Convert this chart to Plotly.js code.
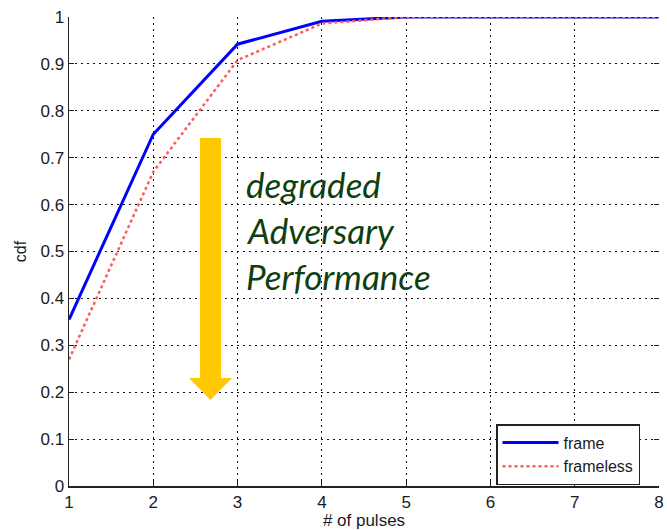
<!DOCTYPE html>
<html>
<head>
<meta charset="utf-8">
<script src="https://cdn.plot.ly/plotly-3.0.1.min.js"></script>
<style>html,body{margin:0;padding:0;background:#fff;}#chart{width:667px;height:530px;}</style>
</head>
<body>
<div id="chart"></div>
<script>
const pulses = [1, 2, 3, 4, 5, 6, 7, 8];
const frameCdf = [0.355, 0.75, 0.942, 0.991, 1, 1, 1, 1];
const framelessCdf = [0.27, 0.67, 0.908, 0.986, 1, 1, 1, 1];
const seriesNames = ['frame', 'frameless'];
const yTicks = [0, 0.1, 0.2, 0.3, 0.4, 0.5, 0.6, 0.7, 0.8, 0.9, 1];
const noteLines = ['degraded', 'Adversary', 'Performance'];

const traces = [
  {x: pulses, y: frameCdf, name: seriesNames[0], mode: 'lines', type: 'scatter',
   line: {color: '#0000ff', width: 3}},
  {x: pulses, y: framelessCdf, name: seriesNames[1], mode: 'lines', type: 'scatter',
   line: {color: '#ff5a5a', width: 2.5, dash: 'dot'}},
  {x: pulses, y: frameCdf, yaxis: 'y2', mode: 'none', type: 'scatter', showlegend: false, hoverinfo: 'skip'}
];

const fam = 'Liberation Sans, Arial, sans-serif';
const tickFont = {family: fam, size: 17, color: '#1a1a26'};
const gridStyle = {showgrid: true, gridcolor: '#111', gridwidth: 1, griddash: '2px,4px'};

const L = 69, R = 659, T = 17, B = 486;
const px = v => (v - L) / (R - L);
const py = v => (B - v) / (B - T);

const annotations = noteLines.map((t, i) => ({
  text: t, xref: 'paper', yref: 'paper', x: px(244), y: py(184 + i * 46),
  xanchor: 'left', yanchor: 'middle', showarrow: false,
  font: {family: 'Lato, Open Sans, sans-serif', size: 35, color: '#0f3f10', style: 'italic'}
}));

const arrowPath = 'M' + px(200) + ',' + py(138) + ' L' + px(221) + ',' + py(138) +
  ' L' + px(221) + ',' + py(378) + ' L' + px(232) + ',' + py(378) +
  ' L' + px(210.5) + ',' + py(400) + ' L' + px(189) + ',' + py(378) +
  ' L' + px(200) + ',' + py(378) + ' Z';

const layout = {
  width: 667, height: 530,
  margin: {l: L, r: 667 - R, t: T, b: 530 - B},
  paper_bgcolor: '#fff', plot_bgcolor: '#fff',
  showlegend: true,
  legend: {x: px(496), y: py(424), xanchor: 'left', yanchor: 'top',
           bgcolor: '#fff', bordercolor: '#222', borderwidth: 1.5,
           font: {family: fam, size: 16, color: '#1a1a26'},
           tracegroupgap: 0, itemwidth: 56},
  xaxis: Object.assign({
    range: [1, 8], dtick: 1, tick0: 1, tickmode: 'linear',
    showline: true, linecolor: '#222', linewidth: 1.5,
    ticks: 'inside', ticklen: 5, tickcolor: '#222',
    zeroline: false, tickfont: tickFont,
    title: {text: '# of pulses', font: {family: fam, size: 17, color: '#1a1a26'}, standoff: 2}
  }, gridStyle),
  yaxis: Object.assign({
    range: [0, 1], tickvals: yTicks, ticktext: yTicks.map(v => String(v)),
    showline: true, linecolor: '#222', linewidth: 1.5,
    ticks: 'inside', ticklen: 5, tickcolor: '#222',
    zeroline: false, tickfont: tickFont,
    title: {text: 'cdf', font: {family: fam, size: 16, color: '#1a1a26'}, standoff: 10}
  }, gridStyle),
  yaxis2: {
    range: [0, 1], tickvals: yTicks, overlaying: 'y', side: 'right',
    showline: false, showgrid: false, zeroline: false,
    ticks: 'inside', ticklen: 5, tickcolor: '#222', showticklabels: false
  },
  shapes: [{type: 'path', xref: 'paper', yref: 'paper', path: arrowPath,
            fillcolor: '#ffc800', line: {width: 0}, layer: 'above'}],
  annotations: annotations
};

Plotly.newPlot('chart', traces, layout, {displayModeBar: false, staticPlot: true});
</script>
</body>
</html>
